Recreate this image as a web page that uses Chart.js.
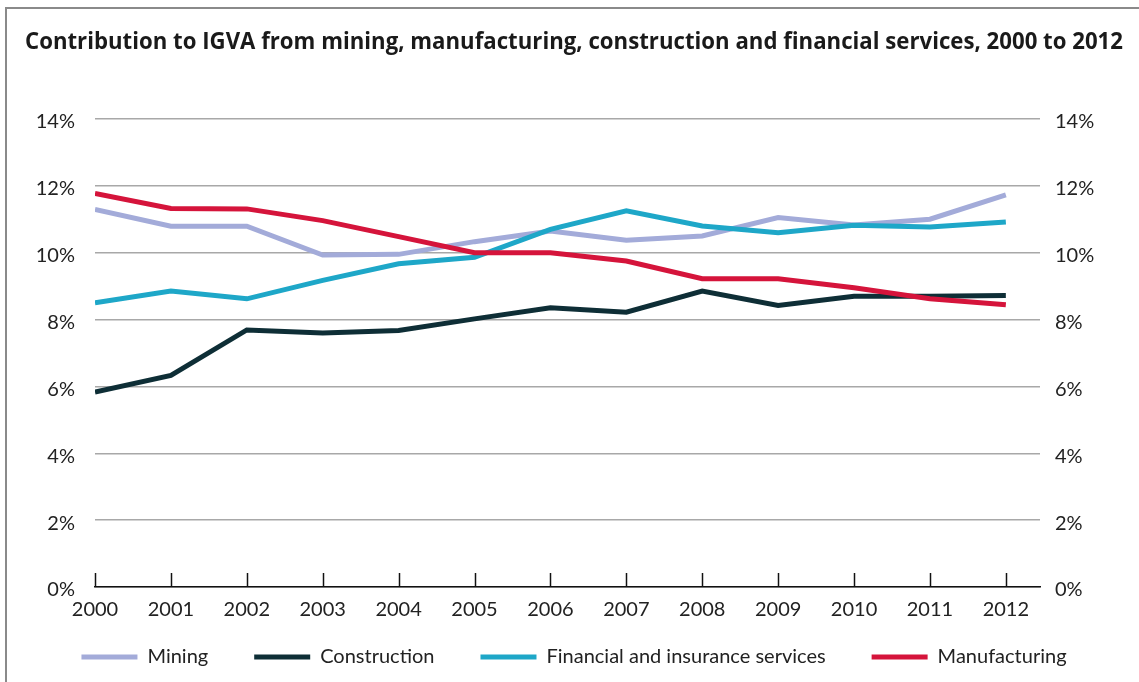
<!DOCTYPE html>
<html>
<head>
<meta charset="utf-8">
<script src="https://cdn.jsdelivr.net/npm/chart.js@4/dist/chart.umd.min.js"></script>
<style>
  html, body { margin: 0; padding: 0; background: #ffffff; }
  #wrap { position: relative; width: 1139px; height: 682px; overflow: hidden; }
  #frame { position: absolute; left: 5px; top: 7px; right: -10px; bottom: -10px;
           border-left: 2px solid #8a8a8a; border-top: 2px solid #8a8a8a; pointer-events: none; }
  canvas { position: absolute; left: 0; top: 0; }
</style>
</head>
<body>
<div id="wrap">
  <canvas id="c" width="1139" height="682"></canvas>
  <div id="frame"></div>
</div>
<script>
const titleText = 'Contribution to IGVA from mining, manufacturing, construction and financial services, 2000 to 2012';
const years = [2000, 2001, 2002, 2003, 2004, 2005, 2006, 2007, 2008, 2009, 2010, 2011, 2012];
const seriesNames = ['Mining', 'Construction', 'Financial and insurance services', 'Manufacturing'];
const mining        = [11.29, 10.79, 10.79, 9.93, 9.95, 10.33, 10.65, 10.37, 10.50, 11.05, 10.83, 11.00, 11.73];
const construction  = [5.83, 6.33, 7.69, 7.60, 7.67, 8.02, 8.35, 8.22, 8.85, 8.42, 8.70, 8.70, 8.72];
const financial     = [8.50, 8.85, 8.62, 9.17, 9.67, 9.86, 10.70, 11.25, 10.80, 10.60, 10.82, 10.77, 10.92];
const manufacturing = [11.77, 11.32, 11.31, 10.96, 10.48, 10.00, 10.00, 9.75, 9.22, 9.22, 8.95, 8.62, 8.44];
const yTicks = [0, 2, 4, 6, 8, 10, 12, 14];

const colors = ['#a3abd9', '#0e2e36', '#1ea7c8', '#d5143b'];
const allSeries = [mining, construction, financial, manufacturing];

const datasets = allSeries.map((vals, i) => ({
  label: seriesNames[i],
  data: years.map((yr, k) => ({ x: yr, y: vals[k] })),
  borderColor: colors[i],
  backgroundColor: colors[i],
  borderWidth: 5,
  pointRadius: 0,
  tension: 0,
  order: allSeries.length - i,
  yAxisID: 'y'
}));

// tick marks pointing up from the x axis, and room for the x labels below the axis box
const upTicks = {
  id: 'upTicks',
  afterLayout(chart) {
    const xs = chart.scales.x;
    xs.bottom = xs.top + 45;
  },
  afterDraw(chart) {
    const xs = chart.scales.x;
    const ctx = chart.ctx;
    const bottom = chart.chartArea.bottom;
    ctx.save();
    ctx.strokeStyle = '#111';
    ctx.lineWidth = 1.5;
    xs.ticks.forEach(t => {
      const px = Math.round(xs.getPixelForValue(t.value)) + 0.5;
      ctx.beginPath();
      ctx.moveTo(px, bottom);
      ctx.lineTo(px, bottom - 14);
      ctx.stroke();
    });
    ctx.restore();
  }
};

const tickFont = { family: 'Lato', size: 20 };
const textColor = '#222';

new Chart(document.getElementById('c'), {
  type: 'line',
  data: { datasets },
  plugins: [upTicks],
  options: {
    responsive: false,
    devicePixelRatio: 1,
    animation: false,
    layout: { padding: { left: 25, right: 16, top: 0, bottom: 5 } },
    plugins: {
      title: {
        display: true,
        text: titleText,
        align: 'start',
        color: '#1a1a1a',
        font: { family: 'Open Sans', size: 22.3, weight: 'bold' },
        padding: { top: 29, bottom: 63.2 }
      },
      legend: {
        position: 'bottom',
        labels: {
          font: tickFont,
          color: textColor,
          boxWidth: 56,
          boxHeight: 5,
          padding: 46,
          sort: (a, b) => a.datasetIndex - b.datasetIndex,
          generateLabels(chart) {
            const items = Chart.defaults.plugins.legend.labels.generateLabels(chart);
            items.forEach(it => { it.lineWidth = 0; });
            return items;
          }
        }
      },
      tooltip: { enabled: false }
    },
    scales: {
      x: {
        type: 'linear',
        min: 2000,
        max: 2012.45,
        grid: { display: false, drawTicks: false },
        border: { display: true, color: '#111', width: 1.5 },
        ticks: {
          stepSize: 1,
          includeBounds: false,
          autoSkip: false,
          maxRotation: 0,
          padding: 11,
          font: tickFont,
          color: textColor,
          callback: v => String(v)
        },
        afterFit: s => { s.height = 14; }
      },
      y: {
        position: 'left',
        min: 0,
        max: 14,
        grid: { color: '#a8a8a8', lineWidth: 1.5, drawTicks: false },
        border: { display: false },
        afterBuildTicks: s => { s.ticks = yTicks.map(v => ({ value: v })); },
        ticks: {
          padding: 20,
          labelOffset: 3,
          font: tickFont,
          color: textColor,
          callback: v => v + '%'
        },
        afterFit: s => { s.width = 70; }
      },
      y2: {
        position: 'right',
        min: 0,
        max: 14,
        grid: { display: false, drawTicks: false },
        border: { display: false },
        afterBuildTicks: s => { s.ticks = yTicks.map(v => ({ value: v })); },
        ticks: {
          padding: 15,
          labelOffset: 3,
          font: tickFont,
          color: textColor,
          callback: v => v + '%'
        },
        afterFit: s => { s.width = 83; }
      }
    }
  }
});
</script>
</body>
</html>
